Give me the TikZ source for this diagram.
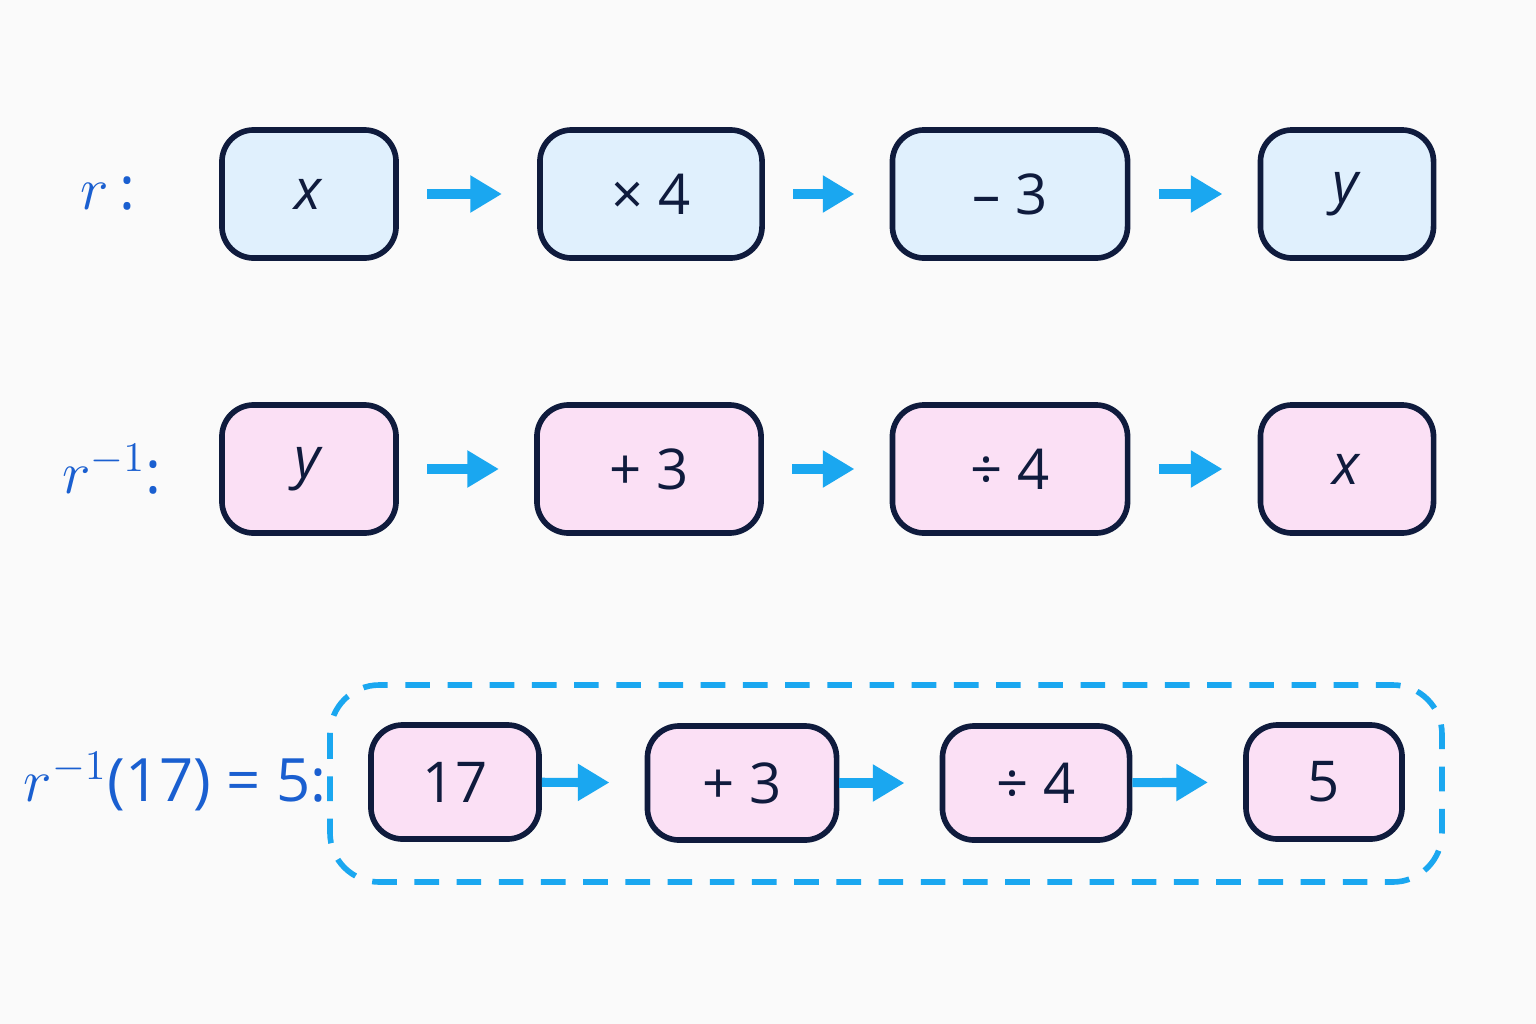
\documentclass[tikz,border=0pt]{standalone}
\usepackage{fontspec}
\setmainfont{Open Sans}
\usetikzlibrary{arrows.meta, positioning}
\definecolor{edgeblue}{HTML}{1AA7F0}
\definecolor{labelblue}{HTML}{1A5FD0}
\definecolor{boxline}{HTML}{0F1B3D}
\definecolor{fillblue}{HTML}{E0F0FD}
\definecolor{fillpink}{HTML}{FBE0F5}
\begin{document}
\begin{tikzpicture}[
            x = 0.01cm, y = -0.01cm,
            > = {Triangle[length=9pt, width=10pt]}, % arrow head style
            opbox/.style = {draw = boxline, line width = 1.6pt, rounded corners = 9pt,
                inner sep = 0pt, font = \fontsize{16}{18}\selectfont, text = boxline},
            fwd/.style = {opbox, fill = fillblue},
            inv/.style = {opbox, fill = fillpink},
            flow/.style = {->, edgeblue, line width = 2.6pt, shorten <= 8pt, shorten > = 10pt},
            lbl/.style = {labelblue, font = \fontsize{17}{20}\selectfont}
        ]
	\fill[white!98!black] (0,0) rectangle (1536,1024);

	% forward chain
	\node[lbl] (lr) at (108,194) {$r$\,:};
	\node[fwd, minimum width=1.74cm, minimum height=1.28cm] (a1) at (309,194) {\textit{x}};
	\node[fwd, minimum width=2.22cm, minimum height=1.28cm] (a2) at (651,194) {× 4};
	\node[fwd, minimum width=2.35cm, minimum height=1.28cm] (a3) at (1010,194) {– 3};
	\node[fwd, minimum width=1.73cm, minimum height=1.28cm] (a4) at (1347,194) {\textit{y}};

	% inverse chain
	\node[lbl] (li) at (112,469) {$r^{-1}$:};
	\node[inv, minimum width=1.74cm, minimum height=1.28cm] (b1) at (309,469) {\textit{y}};
	\node[inv, minimum width=2.24cm, minimum height=1.28cm] (b2) at (649,469) {+ 3};
	\node[inv, minimum width=2.35cm, minimum height=1.28cm] (b3) at (1010,469) {÷ 4};
	\node[inv, minimum width=1.73cm, minimum height=1.28cm] (b4) at (1347,469) {\textit{x}};

	% worked example
	\node[lbl] (le) at (175,782) {$r^{-1}$(17) = 5:};
	\node[inv, minimum width=1.68cm, minimum height=1.14cm] (c1) at (455,782) {17};
	\node[inv, minimum width=1.89cm, minimum height=1.14cm] (c2) at (742,783) {+ 3};
	\node[inv, minimum width=1.87cm, minimum height=1.14cm] (c3) at (1036,783) {÷ 4};
	\node[inv, minimum width=1.56cm, minimum height=1.14cm] (c4) at (1324,782) {5};
	\draw[edgeblue, line width=1.6pt, dash pattern=on 7pt off 5pt, rounded corners=14pt]
	    (330,685) rectangle (1442,882);

	\foreach \p/\q in {a1/a2, a2/a3, a3/a4, b1/b2, b2/b3, b3/b4}
	    \draw[flow] (\p) -- (\q);
	\foreach \p/\q in {c1/c2, c2/c3, c3/c4}
	    \draw[flow, shorten <= 0pt] (\p) -- (\q);
\end{tikzpicture}
\end{document}
